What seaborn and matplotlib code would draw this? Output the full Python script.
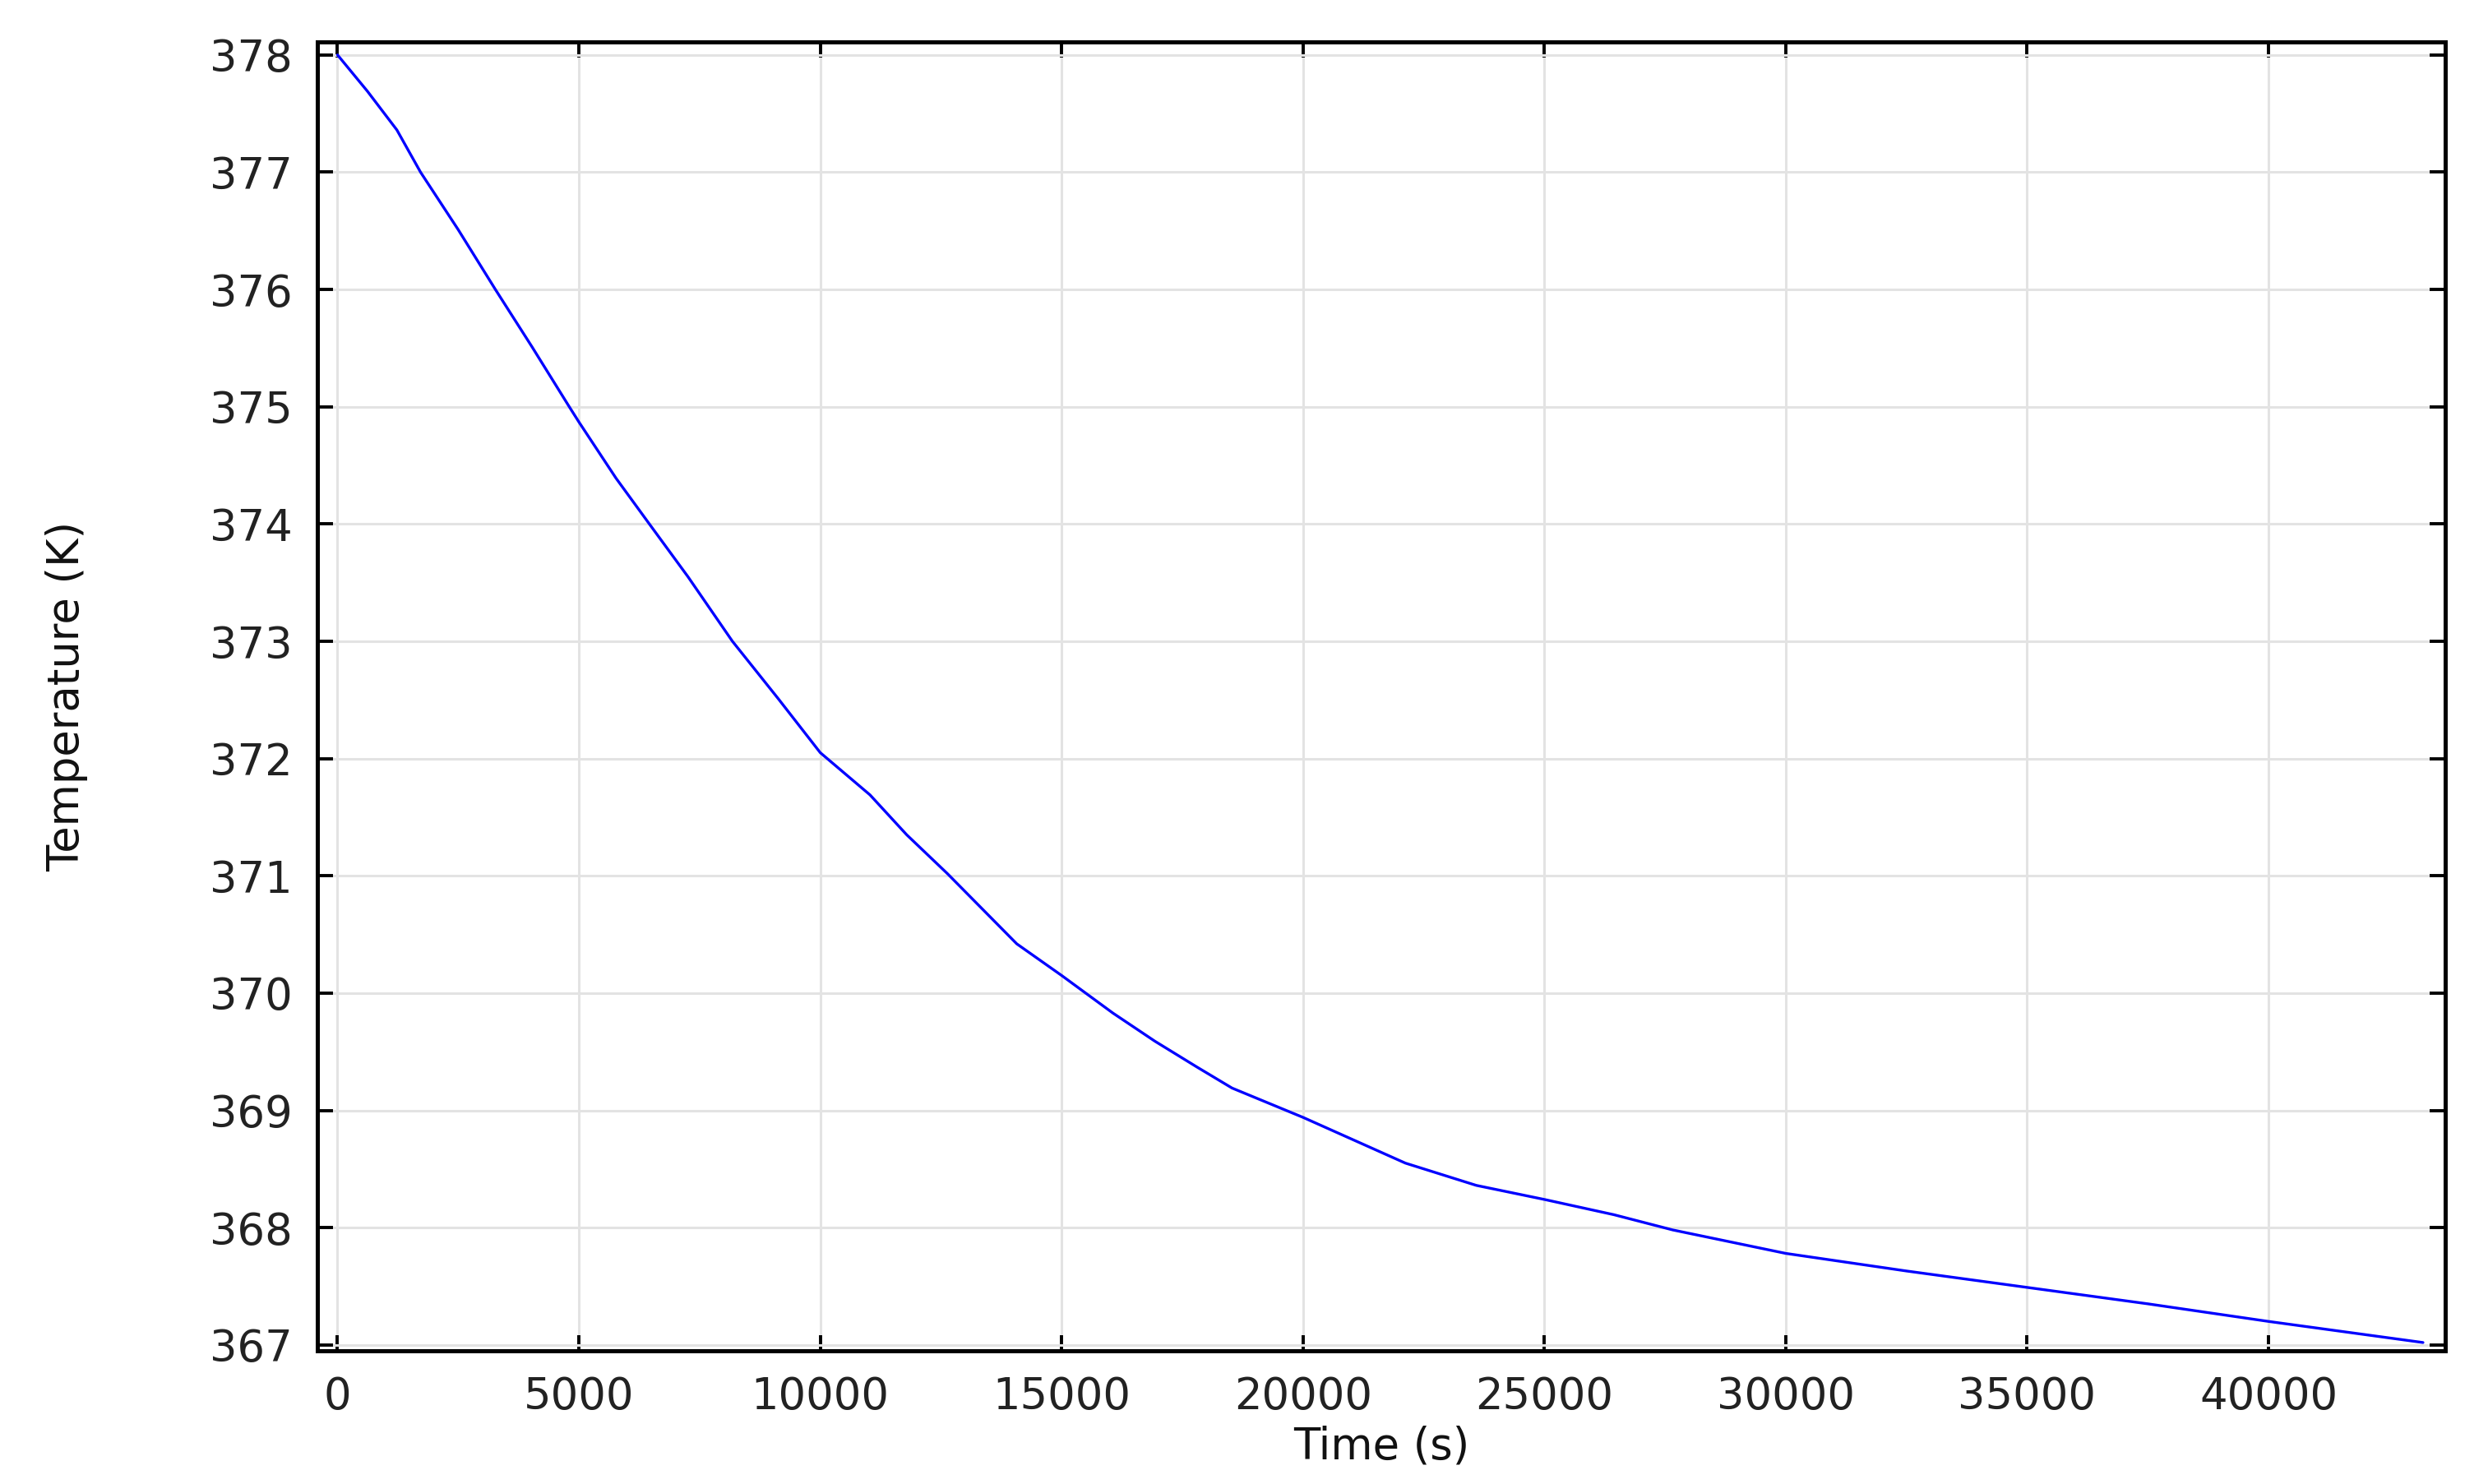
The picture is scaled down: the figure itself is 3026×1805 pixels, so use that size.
import matplotlib
matplotlib.use("Agg")
import matplotlib.pyplot as plt
import seaborn as sns
import pandas as pd

# values
time_s = [0, 620, 1230, 1720, 2500, 3270, 4030, 4800, 5000, 5770, 6460, 7260,
          8180, 9130, 10000, 11030, 11790, 12630, 14070, 15000, 16060, 16930,
          17800, 18530, 20000, 22120, 23590, 25000, 26440, 27660, 30000,
          32500, 35000, 37500, 40000, 43200]
temperature_k = [378.00, 377.69, 377.36, 377.00, 376.51, 376.00, 375.51, 375.00,
                 374.87, 374.39, 374.00, 373.55, 373.00, 372.51, 372.05, 371.69,
                 371.35, 371.02, 370.42, 370.15, 369.83, 369.59, 369.37, 369.19,
                 368.94, 368.55, 368.36, 368.24, 368.11, 367.98, 367.78, 367.63,
                 367.49, 367.35, 367.20, 367.02]
x_ticks = [0, 5000, 10000, 15000, 20000, 25000, 30000, 35000, 40000]
y_ticks = [367, 368, 369, 370, 371, 372, 373, 374, 375, 376, 377, 378]

df = pd.DataFrame({"Time (s)": time_s, "Temperature (K)": temperature_k})

sns.set_style("white")
plt.rcParams["font.family"] = ["DejaVu Sans"]

fig = plt.figure(figsize=(15.13, 9.025), dpi=200)
ax = fig.add_axes([0.1276, 0.0898, 0.9828 - 0.1276, 0.9717 - 0.0898])

sns.lineplot(data=df, x="Time (s)", y="Temperature (K)", color="#0000ff",
             linewidth=1.2, ax=ax)

ax.set_xlim(-415, 43660)
ax.set_ylim(366.95, 378.11)
ax.set_xticks(x_ticks)
ax.set_yticks(y_ticks)
ax.grid(True, color="#e3e3e3", linewidth=1.1)

for side in ["left", "right", "top", "bottom"]:
    ax.spines[side].set_visible(True)
    ax.spines[side].set_color("black")
    ax.spines[side].set_linewidth(1.8)

ax.tick_params(axis="both", which="major", direction="in", top=True, right=True,
               bottom=True, left=True, length=7, width=1.4, color="black",
               labelsize=19, labelcolor="#222222")
ax.tick_params(axis="x", pad=11)
ax.tick_params(axis="y", pad=11)

ax.set_xlabel("Time (s)", fontsize=19, color="#111111")
ax.set_ylabel("Temperature (K)", fontsize=19, color="#111111")
ax.xaxis.set_label_coords(0.5, -0.057)
ax.yaxis.set_label_coords(-0.1078, 0.5)

fig.savefig("out.png", dpi=200, facecolor="white")
